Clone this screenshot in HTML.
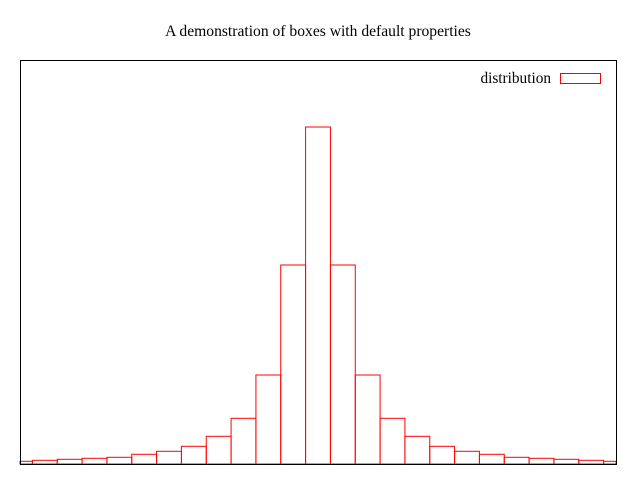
<!DOCTYPE html>
<html><head><meta charset="utf-8"><style>
html,body{margin:0;padding:0;background:#fff;}
svg{display:block;font-family:"Liberation Serif",serif;}
</style></head><body>
<svg id="chart" width="640" height="480">
<text x="318" y="36" text-anchor="middle" font-size="15.6">A demonstration of boxes with default properties</text>
<g id="bars"></g>
<rect x="20.5" y="60.5" width="596" height="404" fill="none" stroke="#000" stroke-width="1"/>
<text x="551" y="83" text-anchor="end" font-size="15.3">distribution</text>
<rect x="560.5" y="73.5" width="40" height="10" fill="none" stroke="#f00"/>
</svg>
<script>
const categories = [-12,-11,-10,-9,-8,-7,-6,-5,-4,-3,-2,-1,0,1,2,3,4,5,6,7,8,9,10,11,12];
const values = [2.7,3.7,4.7,5.7,6.7,9.7,12.7,17.7,27.7,45.7,89,199,337,199,89,45.7,27.7,17.7,12.7,9.7,6.7,5.7,4.7,3.7,2.7];
const xMin=-12, xMax=12, yMax=404;
const L=20, R=616, T=60, B=464;
function xs(v){return L+(v-xMin)/(xMax-xMin)*(R-L);}
function ys(v){return B-v/yMax*(B-T);}
const g=document.getElementById('bars');
const NS='http://www.w3.org/2000/svg';
categories.forEach((c,i)=>{
  let x0=Math.max(xs(c-0.5),L), x1=Math.min(xs(c+0.5),R);
  const r=document.createElementNS(NS,'rect');
  r.setAttribute('x',x0);
  r.setAttribute('y',ys(values[i]));
  r.setAttribute('width',x1-x0);
  r.setAttribute('height',B-ys(values[i]));
  r.setAttribute('fill','none');
  r.setAttribute('stroke','#f00');
  r.setAttribute('stroke-width','1');
  
  
  g.appendChild(r);
});
</script>
</body></html>
